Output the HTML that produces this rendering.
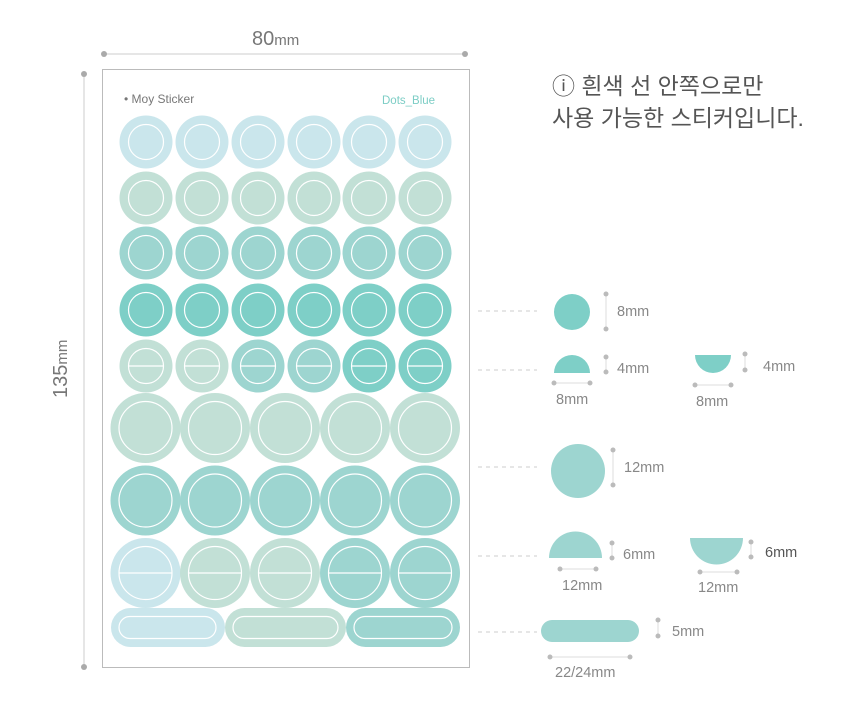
<!DOCTYPE html>
<html><head><meta charset="utf-8"><style>
body{margin:0;background:#fff;}
svg{display:block;}
text{font-family:"Liberation Sans","Noto Sans CJK KR",sans-serif;fill:#777;}
</style></head><body>
<svg width="860" height="712" viewBox="0 0 860 712" xmlns="http://www.w3.org/2000/svg">
<line x1="104" y1="54" x2="465" y2="54" stroke="#ccc" stroke-width="1"/>
<circle cx="104" cy="54" r="3" fill="#aaa"/><circle cx="465" cy="54" r="3" fill="#aaa"/>
<text x="252" y="45" font-size="20">80<tspan font-size="15">mm</tspan></text>
<line x1="84" y1="74" x2="84" y2="667" stroke="#ccc" stroke-width="1"/>
<circle cx="84" cy="74" r="3" fill="#aaa"/><circle cx="84" cy="667" r="3" fill="#aaa"/>
<text transform="translate(67,398) rotate(-90)" font-size="20">135<tspan font-size="15">mm</tspan></text>
<rect x="102.5" y="69.5" width="367" height="598" fill="#fff" stroke="#bbb" stroke-width="1"/>
<text x="124" y="103" font-size="12" fill="#777">• Moy Sticker</text>
<text x="382" y="104" font-size="11.5" style="fill:#7ccdc5">Dots_Blue</text>
<g>
<g fill="#cae6ec">
<circle cx="146" cy="142" r="26.5"/><circle cx="202" cy="142" r="26.5"/><circle cx="258" cy="142" r="26.5"/><circle cx="314" cy="142" r="26.5"/><circle cx="369" cy="142" r="26.5"/><circle cx="425" cy="142" r="26.5"/>
</g>
<g fill="#c2e0d6">
<circle cx="146" cy="198" r="26.5"/><circle cx="202" cy="198" r="26.5"/><circle cx="258" cy="198" r="26.5"/><circle cx="314" cy="198" r="26.5"/><circle cx="369" cy="198" r="26.5"/><circle cx="425" cy="198" r="26.5"/>
</g>
<g fill="#9dd5d0">
<circle cx="146" cy="253" r="26.5"/><circle cx="202" cy="253" r="26.5"/><circle cx="258" cy="253" r="26.5"/><circle cx="314" cy="253" r="26.5"/><circle cx="369" cy="253" r="26.5"/><circle cx="425" cy="253" r="26.5"/>
</g>
<g fill="#7ecfc7">
<circle cx="146" cy="310" r="26.5"/><circle cx="202" cy="310" r="26.5"/><circle cx="258" cy="310" r="26.5"/><circle cx="314" cy="310" r="26.5"/><circle cx="369" cy="310" r="26.5"/><circle cx="425" cy="310" r="26.5"/>
</g>
<circle cx="146" cy="366" r="26.5" fill="#c2e0d6"/><circle cx="202" cy="366" r="26.5" fill="#c2e0d6"/>
<circle cx="258" cy="366" r="26.5" fill="#9dd5d0"/><circle cx="314" cy="366" r="26.5" fill="#9dd5d0"/>
<circle cx="369" cy="366" r="26.5" fill="#7ecfc7"/><circle cx="425" cy="366" r="26.5" fill="#7ecfc7"/>
</g>
<g fill="none" stroke="#fff" stroke-width="1.2">
<circle cx="146" cy="142" r="17.5"/><circle cx="202" cy="142" r="17.5"/><circle cx="258" cy="142" r="17.5"/><circle cx="314" cy="142" r="17.5"/><circle cx="369" cy="142" r="17.5"/><circle cx="425" cy="142" r="17.5"/>
<circle cx="146" cy="198" r="17.5"/><circle cx="202" cy="198" r="17.5"/><circle cx="258" cy="198" r="17.5"/><circle cx="314" cy="198" r="17.5"/><circle cx="369" cy="198" r="17.5"/><circle cx="425" cy="198" r="17.5"/>
<circle cx="146" cy="253" r="17.5"/><circle cx="202" cy="253" r="17.5"/><circle cx="258" cy="253" r="17.5"/><circle cx="314" cy="253" r="17.5"/><circle cx="369" cy="253" r="17.5"/><circle cx="425" cy="253" r="17.5"/>
<circle cx="146" cy="310" r="17.5"/><circle cx="202" cy="310" r="17.5"/><circle cx="258" cy="310" r="17.5"/><circle cx="314" cy="310" r="17.5"/><circle cx="369" cy="310" r="17.5"/><circle cx="425" cy="310" r="17.5"/>
<circle cx="146" cy="366" r="17.5"/><circle cx="202" cy="366" r="17.5"/><circle cx="258" cy="366" r="17.5"/><circle cx="314" cy="366" r="17.5"/><circle cx="369" cy="366" r="17.5"/><circle cx="425" cy="366" r="17.5"/>
<line x1="128.5" y1="366" x2="163.5" y2="366"/><line x1="184.5" y1="366" x2="219.5" y2="366"/><line x1="240.5" y1="366" x2="275.5" y2="366"/><line x1="296.5" y1="366" x2="331.5" y2="366"/><line x1="351.5" y1="366" x2="386.5" y2="366"/><line x1="407.5" y1="366" x2="442.5" y2="366"/>
</g>
<g>
<circle cx="145.5" cy="428" r="35" fill="#c2e0d6"/><circle cx="215" cy="428" r="35" fill="#c2e0d6"/><circle cx="285" cy="428" r="35" fill="#c2e0d6"/><circle cx="355" cy="428" r="35" fill="#c2e0d6"/><circle cx="425" cy="428" r="35" fill="#c2e0d6"/>
<circle cx="145.5" cy="500.5" r="35" fill="#9dd5d0"/><circle cx="215" cy="500.5" r="35" fill="#9dd5d0"/><circle cx="285" cy="500.5" r="35" fill="#9dd5d0"/><circle cx="355" cy="500.5" r="35" fill="#9dd5d0"/><circle cx="425" cy="500.5" r="35" fill="#9dd5d0"/>
<circle cx="145.5" cy="573" r="35" fill="#cae6ec"/><circle cx="215" cy="573" r="35" fill="#c2e0d6"/><circle cx="285" cy="573" r="35" fill="#c2e0d6"/><circle cx="355" cy="573" r="35" fill="#9dd5d0"/><circle cx="425" cy="573" r="35" fill="#9dd5d0"/>
</g>
<g fill="none" stroke="#fff" stroke-width="1.2">
<circle cx="145.5" cy="428" r="26.5"/><circle cx="215" cy="428" r="26.5"/><circle cx="285" cy="428" r="26.5"/><circle cx="355" cy="428" r="26.5"/><circle cx="425" cy="428" r="26.5"/>
<circle cx="145.5" cy="500.5" r="26.5"/><circle cx="215" cy="500.5" r="26.5"/><circle cx="285" cy="500.5" r="26.5"/><circle cx="355" cy="500.5" r="26.5"/><circle cx="425" cy="500.5" r="26.5"/>
<circle cx="145.5" cy="573" r="26.5"/><circle cx="215" cy="573" r="26.5"/><circle cx="285" cy="573" r="26.5"/><circle cx="355" cy="573" r="26.5"/><circle cx="425" cy="573" r="26.5"/>
<line x1="119" y1="573" x2="172" y2="573"/><line x1="188.5" y1="573" x2="241.5" y2="573"/><line x1="258.5" y1="573" x2="311.5" y2="573"/><line x1="328.5" y1="573" x2="381.5" y2="573"/><line x1="398.5" y1="573" x2="451.5" y2="573"/>
</g>
<rect x="111" y="608" width="114" height="39" rx="19.5" fill="#cae6ec"/>
<rect x="225" y="608" width="121" height="39" rx="19.5" fill="#c2e0d6"/>
<rect x="346" y="608" width="114" height="39" rx="19.5" fill="#9dd5d0"/>
<g fill="none" stroke="#fff" stroke-width="1.2">
<rect x="119" y="616.5" width="97" height="22" rx="11"/>
<rect x="233" y="616.5" width="105" height="22" rx="11"/>
<rect x="354" y="616.5" width="98" height="22" rx="11"/>
</g>
<text x="552" y="94" font-size="23" style="fill:#555">ⓘ 흰색 선 안쪽으로만</text>
<text x="552" y="126" font-size="23" style="fill:#555">사용 가능한 스티커입니다.</text>
<g stroke="#ccc" stroke-width="1" stroke-dasharray="4,4">
<line x1="478" y1="311" x2="537" y2="311"/><line x1="478" y1="370" x2="537" y2="370"/>
<line x1="478" y1="467" x2="537" y2="467"/><line x1="478" y1="556" x2="537" y2="556"/>
<line x1="478" y1="632" x2="537" y2="632"/>
</g>
<circle cx="572" cy="312" r="18" fill="#7ecfc7"/>
<path d="M554 373 A18 18 0 0 1 590 373 Z" fill="#7ecfc7"/>
<path d="M695 355 A18 18 0 0 0 731 355 Z" fill="#7ecfc7"/>
<circle cx="578" cy="471" r="27" fill="#9dd5d0"/>
<path d="M549 558 A26.5 26.5 0 0 1 602 558 Z" fill="#9dd5d0"/>
<path d="M690 538 A26.5 26.5 0 0 0 743 538 Z" fill="#9dd5d0"/>
<rect x="541" y="620" width="98" height="22" rx="11" fill="#9dd5d0"/>
<g stroke="#ddd" stroke-width="1">
<line x1="606" y1="294" x2="606" y2="329"/><line x1="606" y1="357" x2="606" y2="372"/><line x1="554" y1="383" x2="590" y2="383"/>
<line x1="745" y1="354" x2="745" y2="370"/><line x1="695" y1="385" x2="731" y2="385"/>
<line x1="613" y1="450" x2="613" y2="485"/>
<line x1="612" y1="543" x2="612" y2="558"/><line x1="560" y1="569" x2="596" y2="569"/>
<line x1="751" y1="542" x2="751" y2="557"/><line x1="700" y1="572" x2="737" y2="572"/>
<line x1="658" y1="620" x2="658" y2="636"/><line x1="550" y1="657" x2="630" y2="657"/>
</g>
<g fill="#bbb">
<circle cx="606" cy="294" r="2.5"/><circle cx="606" cy="329" r="2.5"/>
<circle cx="606" cy="357" r="2.5"/><circle cx="606" cy="372" r="2.5"/>
<circle cx="554" cy="383" r="2.5"/><circle cx="590" cy="383" r="2.5"/>
<circle cx="745" cy="354" r="2.5"/><circle cx="745" cy="370" r="2.5"/>
<circle cx="695" cy="385" r="2.5"/><circle cx="731" cy="385" r="2.5"/>
<circle cx="613" cy="450" r="2.5"/><circle cx="613" cy="485" r="2.5"/>
<circle cx="612" cy="543" r="2.5"/><circle cx="612" cy="558" r="2.5"/>
<circle cx="560" cy="569" r="2.5"/><circle cx="596" cy="569" r="2.5"/>
<circle cx="751" cy="542" r="2.5"/><circle cx="751" cy="557" r="2.5"/>
<circle cx="700" cy="572" r="2.5"/><circle cx="737" cy="572" r="2.5"/>
<circle cx="658" cy="620" r="2.5"/><circle cx="658" cy="636" r="2.5"/>
<circle cx="550" cy="657" r="2.5"/><circle cx="630" cy="657" r="2.5"/>
</g>
<g font-size="14.5" style="fill:#888">
<text x="617" y="316" style="fill:#888">8mm</text>
<text x="617" y="373" style="fill:#888">4mm</text>
<text x="556" y="404" style="fill:#888">8mm</text>
<text x="763" y="371" style="fill:#888">4mm</text>
<text x="696" y="406" style="fill:#888">8mm</text>
<text x="624" y="472" style="fill:#888">12mm</text>
<text x="623" y="559" style="fill:#888">6mm</text>
<text x="562" y="590" style="fill:#888">12mm</text>
<text x="765" y="557" style="fill:#555">6mm</text>
<text x="698" y="592" style="fill:#888">12mm</text>
<text x="672" y="636" style="fill:#888">5mm</text>
<text x="555" y="677" style="fill:#888">22/24mm</text>
</g>
</svg>
</body></html>
